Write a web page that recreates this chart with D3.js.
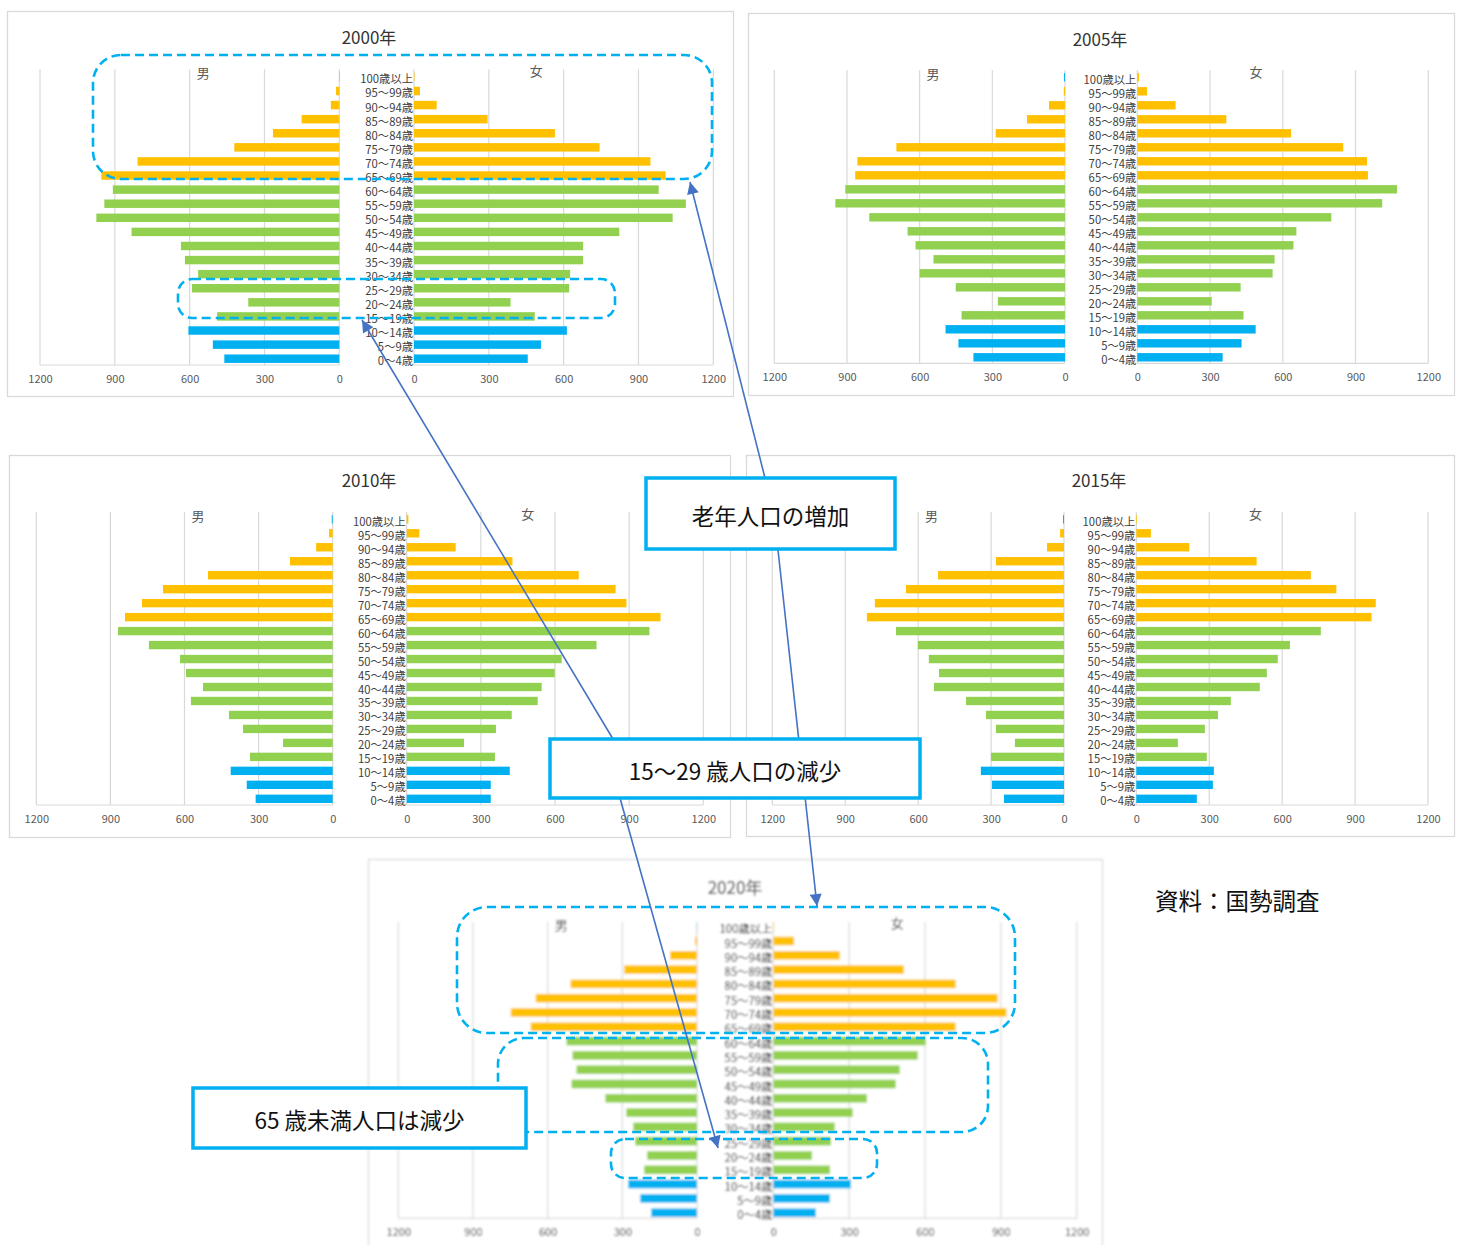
<!DOCTYPE html>
<html><head><meta charset="utf-8">
<script src="https://cdn.jsdelivr.net/npm/d3@7"></script>
<style>
  body { margin: 0; background: #fff; }
  svg { display: block; }
</style>
</head><body>
<svg id="chart" width="1457" height="1245"></svg>
<script>
// Age groups, top (oldest) to bottom (youngest)
const ageGroups = ["100歳以上","95～99歳","90～94歳","85～89歳","80～84歳","75～79歳","70～74歳","65～69歳",
  "60～64歳","55～59歳","50～54歳","45～49歳","40～44歳","35～39歳","30～34歳","25～29歳","20～24歳","15～19歳",
  "10～14歳","5～9歳","0～4歳"];
// Broad age band of each group: elderly / working age / children
const ageBands = ["old","old","old","old","old","old","old","old",
  "work","work","work","work","work","work","work","work","work","work",
  "young","young","young"];
const yearTitles = ["2000年","2005年","2010年","2015年","2020年"];
const sexLabels = ["男","女"];
const axisTicks = [0, 300, 600, 900, 1200];

// Population by age group (persons)
const male2000   = [1,13,34,151,266,421,809,954,908,942,974,833,635,619,566,591,365,490,605,507,461];
const female2000 = [2,24,91,295,565,744,948,1009,981,1090,1037,823,678,678,626,622,387,484,613,509,456];
const male2005   = [4,5,66,157,286,696,857,866,907,948,808,650,617,543,600,451,277,427,493,440,378];
const female2005 = [7,40,158,367,634,849,947,951,1071,1010,800,656,644,566,558,426,307,438,488,430,352];
const male2010   = [4,15,67,173,505,687,772,841,869,744,618,594,525,574,420,363,201,335,413,348,312];
const female2010 = [7,51,198,428,696,845,889,1027,982,768,627,599,546,530,425,361,232,357,417,340,340];
const male2015   = [4,16,70,280,518,650,778,811,691,601,556,514,535,403,321,280,202,300,342,296,247];
const female2015 = [3,60,218,495,718,823,985,968,759,632,582,537,508,389,336,282,171,290,319,315,249];
const male2020   = [1,8,108,292,508,648,748,668,524,500,484,504,368,284,256,248,200,212,276,228,184];
const female2020 = [3,82,263,516,721,887,922,721,603,571,500,484,370,314,243,228,153,224,307,224,168];

const maleSeries = [male2000, male2005, male2010, male2015, male2020];
const femaleSeries = [female2000, female2005, female2010, female2015, female2020];

// Panel placement on the page: frame, x extents of each half, plot area and
// centre lines of the first and last bar rows
const panels = [
  { frame:[7,11,733,396],     male:[40,339.3],   female:[414,713.3],     y:[69.3,365],     rows:[76.9,358.7],  title:[369,36] },
  { frame:[748,13,1454,395],  male:[774.3,1065], female:[1137.3,1428.3], y:[70,363.3],     rows:[77.3,357.3],  title:[1100,38] },
  { frame:[9,455,730,837],    male:[36.3,332.7], female:[406.7,703.3],   y:[512,805],      rows:[519.3,798.8], title:[369,479] },
  { frame:[746,455,1454,836], male:[772.3,1064], female:[1136.3,1428],   y:[512,805],      rows:[519.3,798.8], title:[1099,479] },
  { frame:[368,859,1102,1262],male:[398.3,697],  female:[773.3,1076.7],  y:[921.7,1218.3], rows:[926.7,1212.7],title:[735,886], soft:true }
];

const bandColor = { old: "#FFC000", work: "#92D050", young: "#00B0F0" };
const gridColor = "#D9D9D9";
const font = "'Noto Sans CJK JP','Noto Sans',sans-serif";

const svg = d3.select("#chart");
const defs = svg.append("defs");
defs.append("filter").attr("id","soft").attr("x","-5%").attr("y","-5%").attr("width","110%").attr("height","110%")
  .append("feGaussianBlur").attr("stdDeviation", 0.85);
defs.append("marker").attr("id","arrow").attr("viewBox","0 0 10 10").attr("refX",10).attr("refY",5)
  .attr("markerWidth",15).attr("markerHeight",12).attr("markerUnits","userSpaceOnUse").attr("orient","auto")
  .append("path").attr("d","M0,0 L10,5 L0,10 Z").attr("fill","#4472C4");

panels.forEach((p, i) => {
  const g = svg.append("g");
  if (p.soft) g.attr("filter","url(#soft)");
  const labelInk = p.soft ? "#222" : "#404040";
  const axisInk = p.soft ? "#333" : "#595959";
  const [fx0, fy0, fx1, fy1] = p.frame;
  g.append("rect").attr("x", fx0 + 0.5).attr("y", fy0 + 0.5).attr("width", fx1 - fx0).attr("height", fy1 - fy0)
    .attr("fill", "#fff").attr("stroke", gridColor).attr("stroke-width", 1.3);

  const xm = d3.scaleLinear().domain([1200, 0]).range(p.male);
  const xf = d3.scaleLinear().domain([0, 1200]).range(p.female);
  const rowStep = (p.rows[1] - p.rows[0]) / (ageGroups.length - 1);
  const y = d3.scaleBand().domain(ageGroups)
    .range([p.rows[0] - rowStep / 2, p.rows[1] + rowStep / 2])
    .paddingInner(0.4).paddingOuter(0.2);

  // Vertical gridlines and baseline
  [xm, xf].forEach(sc => {
    g.selectAll(null).data(axisTicks).join("line")
      .attr("x1", d => sc(d)).attr("x2", d => sc(d))
      .attr("y1", p.y[0]).attr("y2", p.y[1])
      .attr("stroke", gridColor).attr("stroke-width", 1.2);
    g.append("line").attr("x1", sc.range()[0]).attr("x2", sc.range()[1])
      .attr("y1", p.y[1]).attr("y2", p.y[1]).attr("stroke", gridColor).attr("stroke-width", 1.2);
  });

  // Bottom axes
  [xm, xf].forEach(sc => {
    const ax = g.append("g").attr("transform", `translate(0,${p.y[1]})`)
      .call(d3.axisBottom(sc).tickValues(axisTicks).tickSize(0).tickPadding(10).tickFormat(d3.format("d")));
    ax.select(".domain").remove();
    ax.selectAll("text").attr("font-family", font).attr("font-size", 11).attr("fill", axisInk);
  });

  const male = maleSeries[i], female = femaleSeries[i];
  // Male bars grow leftwards from zero
  g.selectAll(null).data(ageGroups).join("rect")
    .attr("x", (d, k) => xm(male[k])).attr("y", d => y(d))
    .attr("width", (d, k) => xm(0) - xm(male[k])).attr("height", y.bandwidth())
    .attr("fill", (d, k) => k === 0 ? bandColor.young : bandColor[ageBands[k]]);
  // Female bars grow rightwards from zero
  g.selectAll(null).data(ageGroups).join("rect")
    .attr("x", xf(0)).attr("y", d => y(d))
    .attr("width", (d, k) => xf(female[k]) - xf(0)).attr("height", y.bandwidth())
    .attr("fill", (d, k) => bandColor[ageBands[k]]);

  // Age labels in the centre gutter
  g.selectAll(null).data(ageGroups).join("text")
    .attr("x", xf(0) - 1).attr("y", d => y(d) + y.bandwidth() / 2 + 1.5)
    .attr("text-anchor", "end").attr("dominant-baseline", "central")
    .attr("font-family", font).attr("font-size", 11.3).attr("fill", labelInk)
    .text(d => d);

  // Sex labels
  g.append("text").attr("x", xm(545)).attr("y", p.y[0] + 3).attr("text-anchor", "middle")
    .attr("dominant-baseline", "central").attr("font-family", font).attr("font-size", 13)
    .attr("fill", axisInk).text(sexLabels[0]);
  g.append("text").attr("x", xf(490)).attr("y", p.y[0] + 1).attr("text-anchor", "middle")
    .attr("dominant-baseline", "central").attr("font-family", font).attr("font-size", 13)
    .attr("fill", axisInk).text(sexLabels[1]);

  // Title
  g.append("text").attr("x", p.title[0]).attr("y", p.title[1]).attr("text-anchor", "middle")
    .attr("dominant-baseline", "central").attr("font-family", font).attr("font-size", 17)
    .attr("fill", p.soft ? "#222" : "#333").text(yearTitles[i]);
});

// Dashed highlight outlines
const outlines = [
  [93, 55, 619, 124, 28],
  [178, 279, 437, 39, 14],
  [457, 907, 558, 126, 30],
  [498, 1038, 490, 94, 26],
  [611, 1139, 266, 39, 14]
];
svg.append("g").selectAll("rect").data(outlines).join("rect")
  .attr("x", d => d[0]).attr("y", d => d[1]).attr("width", d => d[2]).attr("height", d => d[3])
  .attr("rx", d => d[4]).attr("ry", d => d[4])
  .attr("fill", "none").attr("stroke", "#00B0F0").attr("stroke-width", 2.6)
  .attr("stroke-dasharray", "9,5");

// Callout arrows
const arrows = [
  [765, 478, 690, 182],
  [778, 550, 817, 906],
  [613, 739, 362, 320],
  [620, 798, 718, 1148]
];
svg.append("g").selectAll("line").data(arrows).join("line")
  .attr("x1", d => d[0]).attr("y1", d => d[1]).attr("x2", d => d[2]).attr("y2", d => d[3])
  .attr("stroke", "#4472C4").attr("stroke-width", 1.6).attr("marker-end", "url(#arrow)");

// Callout boxes
const callouts = [
  { box: [646, 478, 249, 71], text: "老年人口の増加" },
  { box: [550, 739, 370, 59], text: "15～29 歳人口の減少" },
  { box: [193, 1088, 333, 60], text: "65 歳未満人口は減少" }
];
const cg = svg.append("g").selectAll("g").data(callouts).join("g");
cg.append("rect").attr("x", d => d.box[0]).attr("y", d => d.box[1])
  .attr("width", d => d.box[2]).attr("height", d => d.box[3])
  .attr("fill", "#fff").attr("stroke", "#00B0F0").attr("stroke-width", 3.5);
cg.append("text").attr("x", d => d.box[0] + d.box[2] / 2).attr("y", d => d.box[1] + d.box[3] / 2 + 1)
  .attr("text-anchor", "middle").attr("dominant-baseline", "central")
  .attr("font-family", font).attr("font-size", 22.5).attr("fill", "#111")
  .text(d => d.text);

// Source note
svg.append("text").attr("x", 1155).attr("y", 900).attr("dominant-baseline", "central")
  .attr("font-family", font).attr("font-size", 23.5).attr("fill", "#111").text("資料：国勢調査");
</script>
</body></html>
